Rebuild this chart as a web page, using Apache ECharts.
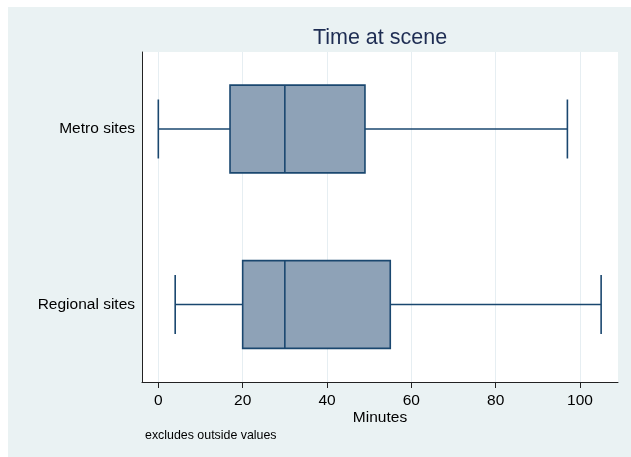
<!DOCTYPE html>
<html>
<head>
<meta charset="utf-8">
<script src="https://cdn.jsdelivr.net/npm/echarts@6/dist/echarts.min.js"></script>
<style>html,body{margin:0;padding:0;background:#fff}#c{width:631px;height:457px}</style>
</head>
<body>
<div id="c"></div>
<script>
const categories = ['Metro sites', 'Regional sites'];
const whiskerLow = [0, 4];
const q1 = [17, 20];
const median = [30, 30];
const q3 = [49, 55];
const whiskerHigh = [97, 105];
const xTicks = [0, 20, 40, 60, 80, 100];

const FONT = '"Liberation Sans", Arial, sans-serif';
const STROKE = '#1A476F';
const FILL = '#8EA2B7';

const data = categories.map((c, i) => [categories.length - 1 - i, whiskerLow[i], q1[i], median[i], q3[i], whiskerHigh[i]]);

const chart = echarts.init(document.getElementById('c'), null, {renderer: 'canvas'});
chart.setOption({
  animation: false,
  backgroundColor: '#ffffff',
  graphic: [
    {type: 'rect', z: -10, shape: {x: 8, y: 7, width: 623, height: 450}, style: {fill: '#EAF2F3'}},
    {type: 'rect', z: -9, shape: {x: 142, y: 52, width: 476, height: 330}, style: {fill: '#ffffff'}},
    {type: 'text', left: 145, top: 430, style: {text: 'excludes outside values', font: '12.4px ' + FONT, fill: '#000'}}
  ],
  title: {
    text: 'Time at scene',
    left: 380, top: 27, textAlign: 'center', padding: 0,
    textStyle: {fontFamily: FONT, fontSize: 21.5, fontWeight: 'normal', color: '#1E2D53'}
  },
  grid: {left: 142, top: 52, right: 13, bottom: 75, containLabel: false},
  xAxis: {
    type: 'value', min: -3.87, max: 109,
    name: 'Minutes', nameLocation: 'middle', nameGap: 28, nameMoveOverlap: false,
    nameTextStyle: {fontFamily: FONT, fontSize: 15.5, color: '#000'},
    axisLine: {show: true, onZero: false, lineStyle: {color: '#222', width: 1}},
    axisTick: {show: true, length: 6, customValues: xTicks, lineStyle: {color: '#222'}},
    axisLabel: {customValues: xTicks, margin: 11, fontFamily: FONT, fontSize: 15.5, color: '#000'},
    splitLine: {show: true, lineStyle: {color: '#E6EEF2', width: 1}}
  },
  yAxis: {
    type: 'value', min: -0.4416, max: 1.4387,
    axisLine: {show: true, onZero: false, lineStyle: {color: '#222', width: 1}},
    axisTick: {show: false},
    splitLine: {show: false},
    axisLabel: {
      customValues: [0, 1], margin: 7, fontFamily: FONT, fontSize: 15.5, color: '#000',
      formatter: v => categories[categories.length - 1 - Math.round(v)]
    }
  },
  series: [{
    type: 'custom',
    data: data,
    encode: {x: [1, 2, 3, 4, 5], y: 0},
    renderItem: function (params, api) {
      const y = api.value(0);
      const lo = api.coord([api.value(1), y]);
      const a = api.coord([api.value(2), y]);
      const m = api.coord([api.value(3), y]);
      const b = api.coord([api.value(4), y]);
      const hi = api.coord([api.value(5), y]);
      const boxH = api.size([0, 0.5])[1];
      const capH = api.size([0, 0.336])[1];
      const ls = {stroke: STROKE, lineWidth: 1.6, fill: null};
      return {
        type: 'group',
        children: [
          {type: 'line', shape: {x1: lo[0], y1: lo[1], x2: a[0], y2: a[1]}, style: ls},
          {type: 'line', shape: {x1: b[0], y1: b[1], x2: hi[0], y2: hi[1]}, style: ls},
          {type: 'line', shape: {x1: lo[0], y1: lo[1] - capH / 2, x2: lo[0], y2: lo[1] + capH / 2}, style: ls},
          {type: 'line', shape: {x1: hi[0], y1: hi[1] - capH / 2, x2: hi[0], y2: hi[1] + capH / 2}, style: ls},
          {type: 'rect', shape: {x: a[0], y: a[1] - boxH / 2, width: b[0] - a[0], height: boxH}, style: {fill: FILL, stroke: STROKE, lineWidth: 1.6}},
          {type: 'line', shape: {x1: m[0], y1: m[1] - boxH / 2, x2: m[0], y2: m[1] + boxH / 2}, style: ls}
        ]
      };
    }
  }]
});
</script>
</body>
</html>
